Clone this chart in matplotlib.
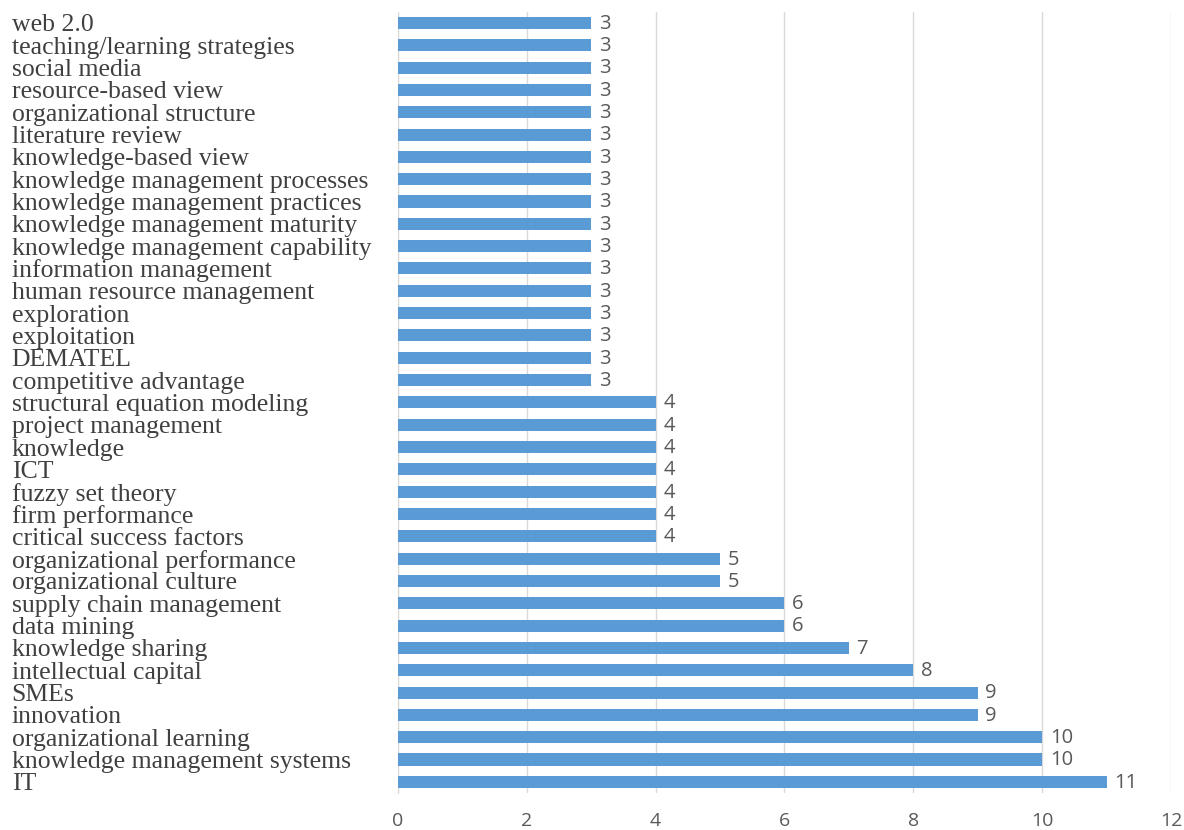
import matplotlib.pyplot as plt
import numpy as np

# 关键词及出现次数（自下而上）
keywords = [
    'IT', 'knowledge management systems', 'organizational learning', 'innovation',
    'SMEs', 'intellectual capital', 'knowledge sharing', 'data mining',
    'supply chain management', 'organizational culture', 'organizational performance',
    'critical success factors', 'firm performance', 'fuzzy set theory', 'ICT',
    'knowledge', 'project management', 'structural equation modeling',
    'competitive advantage', 'DEMATEL', 'exploitation', 'exploration',
    'human resource management', 'information management',
    'knowledge management capability', 'knowledge management maturity',
    'knowledge management practices', 'knowledge management processes',
    'knowledge-based view', 'literature review', 'organizational structure',
    'resource-based view', 'social media', 'teaching/learning strategies', 'web 2.0',
]
counts = [11, 10, 10, 9, 9, 8, 7, 6, 6, 5, 5,
          4, 4, 4, 4, 4, 4, 4,
          3, 3, 3, 3, 3, 3, 3, 3, 3, 3, 3, 3, 3, 3, 3, 3, 3]
xticks = [0, 2, 4, 6, 8, 10, 12]

fig = plt.figure(figsize=(11.84, 8.30), dpi=100)
ax = fig.add_axes([0.336, 0.0446, 0.653, 0.9412])

y = np.arange(len(keywords))
ax.barh(y, counts, height=0.54, color='#5b9bd5', zorder=3)

# 数据标签
for yi, c in zip(y, counts):
    ax.text(c + 0.12, yi - 0.04, str(c), va='center', ha='left', fontsize=14.5,
            color='#595959', family='Open Sans')

ax.set_ylim(-0.5, len(keywords) - 0.5)
ax.set_xlim(0, 12)
ax.set_xticks(xticks)
ax.set_xticklabels([str(t) for t in xticks], fontsize=14, color='#595959',
                   family='Open Sans')
ax.set_yticks(y)
ax.set_yticklabels(keywords, fontsize=18.5, color='#404040', family='Liberation Serif',
                   ha='left')
ax.tick_params(axis='y', length=0, pad=278)
ax.tick_params(axis='x', length=0, pad=14)

ax.grid(axis='x', color='#d9d9d9', linewidth=1, zorder=0)
for s in ['top', 'right', 'bottom']:
    ax.spines[s].set_visible(False)
ax.spines['left'].set_color('#d9d9d9')

fig.savefig('out.png', dpi=100)
